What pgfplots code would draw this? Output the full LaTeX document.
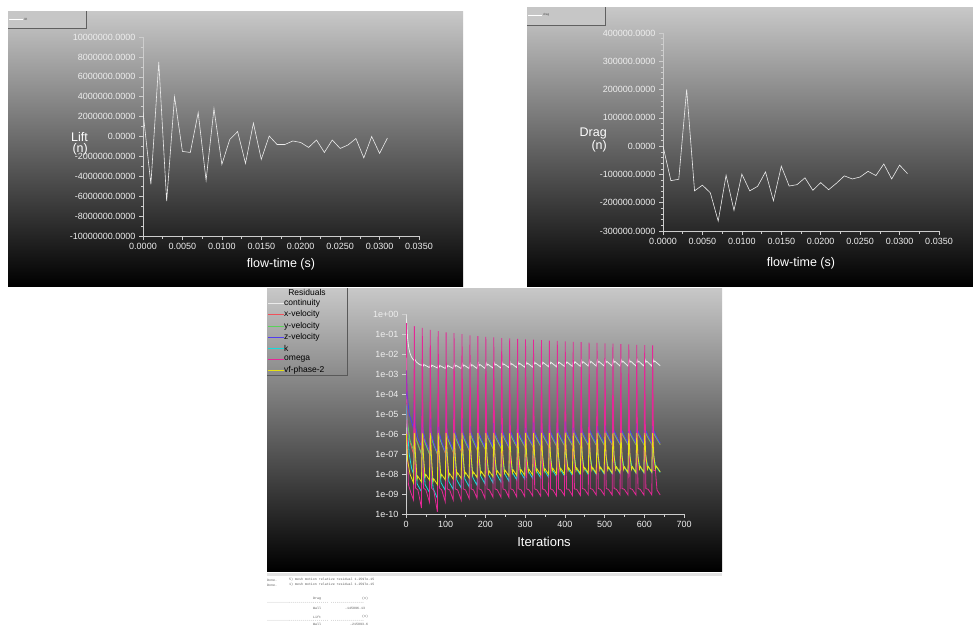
\documentclass[border=0pt]{standalone}
\usepackage{fontspec}
\setmainfont{Liberation Sans}
\newfontfamily\monof{Liberation Mono}
\usepackage{pgfplots}
\pgfplotsset{compat=1.18}
\definecolor{bgtop}{RGB}{200,200,200}
\definecolor{legbg}{RGB}{198,198,198}
\definecolor{axg}{RGB}{205,205,205}
\definecolor{lbl}{RGB}{238,238,238}
\definecolor{cred}{RGB}{240,80,90}
\definecolor{cgreen}{RGB}{90,210,90}
\definecolor{cblue}{RGB}{80,60,240}
\definecolor{ccyan}{RGB}{20,220,220}
\definecolor{cmag}{RGB}{228,40,150}
\definecolor{cyel}{RGB}{230,225,20}
\definecolor{cwhite}{RGB}{235,235,235}
\pgfplotsset{fl/.style={scale only axis, axis x line*=bottom, axis y line*=left,
  axis line style={axg,line width=0.6pt}, tick style={axg,line width=0.5pt},
  tick align=outside, major tick length=4pt, minor tick length=2.5pt,
  ticklabel style={font=\fontsize{9}{10}\selectfont, text=lbl},
  scaled ticks=false}}
\begin{document}
\begin{tikzpicture}
\path[use as bounding box] (0,0) rectangle (973pt,-625pt);
\fill[white] (0,0) rectangle (973pt,-625pt);
% panels
\shade[top color=bgtop, bottom color=black] (8pt,-11pt) rectangle (463pt,-286pt);
\shade[top color=bgtop, bottom color=black] (527pt,-7pt) rectangle (973pt,-286pt);
\shade[top color=bgtop, bottom color=black] (267pt,-288pt) rectangle (722pt,-571pt);
% legends of lift / drag
\fill[legbg] (8pt,-11pt) rectangle (86pt,-28pt);
\draw[gray!75!black,line width=0.7pt] (86pt,-11pt) -- (86pt,-28pt) -- (8pt,-28pt);
\draw[white,line width=0.5pt] (9pt,-19pt) -- (23pt,-19pt);
\node[anchor=west,inner sep=0,font=\fontsize{3}{3}\selectfont,text=gray!60!black] at (24pt,-19pt) {lift};
\fill[legbg] (527pt,-7pt) rectangle (605pt,-25pt);
\draw[gray!75!black,line width=0.7pt] (605pt,-7pt) -- (605pt,-25pt) -- (527pt,-25pt);
\draw[white,line width=0.5pt] (528pt,-15pt) -- (542pt,-15pt);
\node[anchor=west,inner sep=0,font=\fontsize{3}{3}\selectfont,text=gray!60!black] at (543pt,-15pt) {drag};
% Lift axis
\begin{axis}[fl, at={(143pt,-236pt)}, anchor=south west, width=276pt, height=199pt,
  xmin=0, xmax=0.035, ymin=-10000000, ymax=10000000,
  xtick={0,0.005,0.01,0.015,0.02,0.025,0.03,0.035},
  xticklabels={0.0000,0.0050,0.0100,0.0150,0.0200,0.0250,0.0300,0.0350},
  ytick={-10000000,-8000000,-6000000,-4000000,-2000000,0,2000000,4000000,6000000,8000000,10000000},
  yticklabels={-10000000.0000,-8000000.0000,-6000000.0000,-4000000.0000,-2000000.0000,0.0000,2000000.0000,4000000.0000,6000000.0000,8000000.0000,10000000.0000},
  minor x tick num=1, minor y tick num=1]
\addplot[cwhite, line width=0.6pt] coordinates {(0,2500000)(0.001,-4800000)(0.002,7500000)(0.003,-6500000)(0.004,4000000)(0.005,-1500000)(0.006,-1600000)(0.007,2400000)(0.008,-4400000)(0.009,2800000)(0.010,-2800000)(0.011,-300000)(0.012,500000)(0.013,-2700000)(0.014,1350000)(0.015,-2300000)(0.016,50000)(0.017,-800000)(0.018,-800000)(0.019,-450000)(0.020,-600000)(0.021,-1100000)(0.022,-350000)(0.023,-1600000)(0.024,-350000)(0.025,-1200000)(0.026,-850000)(0.027,-200000)(0.028,-2150000)(0.029,0)(0.030,-1700000)(0.031,-150000)};
\end{axis}
% Drag axis
\begin{axis}[fl, at={(663pt,-231pt)}, anchor=south west, width=276pt, height=198pt,
  xmin=0, xmax=0.035, ymin=-300000, ymax=400000,
  xtick={0,0.005,0.01,0.015,0.02,0.025,0.03,0.035},
  xticklabels={0.0000,0.0050,0.0100,0.0150,0.0200,0.0250,0.0300,0.0350},
  ytick={-300000,-200000,-100000,0,100000,200000,300000,400000},
  yticklabels={-300000.0000,-200000.0000,-100000.0000,0.0000,100000.0000,200000.0000,300000.0000,400000.0000},
  minor x tick num=1, minor y tick num=4]
\addplot[cwhite, line width=0.6pt] coordinates {(0,0)(0.001,-122000)(0.002,-117000)(0.003,201000)(0.004,-158000)(0.005,-138000)(0.006,-165000)(0.007,-265000)(0.008,-103000)(0.009,-227000)(0.010,-99000)(0.011,-158000)(0.012,-142000)(0.013,-91000)(0.014,-193000)(0.015,-71000)(0.016,-141000)(0.017,-136000)(0.018,-112000)(0.019,-156000)(0.020,-129000)(0.021,-154000)(0.022,-131000)(0.023,-105000)(0.024,-116000)(0.025,-109000)(0.026,-89000)(0.027,-104000)(0.028,-63000)(0.029,-116000)(0.030,-67000)(0.031,-97000)};
\end{axis}
% Residual axis
\begin{axis}[fl, at={(406pt,-514pt)}, anchor=south west, width=278pt, height=200pt,
  xmin=0, xmax=700, ymode=log, ymin=1e-10, ymax=1,
  xtick={0,100,200,300,400,500,600,700}, xticklabels={0,100,200,300,400,500,600,700},
  ytick={1e-10,1e-9,1e-8,1e-7,1e-6,1e-5,1e-4,1e-3,1e-2,1e-1,1},
  yticklabels={1e-10,1e-09,1e-08,1e-07,1e-06,1e-05,1e-04,1e-03,1e-02,1e-01,1e+00},
  minor x tick num=1, yminorticks=false,
  every axis plot/.append style={line width=0.8pt}]
% continuity
\addplot[cwhite] coordinates {(0,1)(2,0.3)(4,0.06)(7,0.02)(10,1.1e-2)(14,7e-3)(19,5e-3)(22,5.5e-3)(26,4e-3)(32,3.2e-3)(39,2.7e-3)
(42,3.4e-3)(44,2.6e-3)(46,2.9e-3)(59,2.1e-3)
(62,3.2e-3)(64,2.4e-3)(66,2.7e-3)(79,2e-3)
(82,3.1e-3)(84,2.3e-3)(86,2.6e-3)(99,1.9e-3)
(102,3.1e-3)(104,2.3e-3)(106,2.6e-3)(119,1.9e-3)
(122,3.2e-3)(124,2.4e-3)(126,2.7e-3)(139,1.9e-3)
(142,3.3e-3)(144,2.5e-3)(146,2.8e-3)(159,1.9e-3)
(162,3.4e-3)(164,2.55e-3)(166,2.9e-3)(179,1.9e-3)
(182,3.5e-3)(184,2.6e-3)(186,3e-3)(199,1.9e-3)
(202,3.6e-3)(204,2.7e-3)(206,3.1e-3)(219,2e-3)
(222,3.7e-3)(224,2.8e-3)(226,3.1e-3)(239,2e-3)
(242,3.8e-3)(244,2.85e-3)(246,3.2e-3)(259,2.1e-3)
(262,3.9e-3)(264,2.9e-3)(266,3.3e-3)(279,2.1e-3)
(282,4e-3)(284,3e-3)(286,3.4e-3)(299,2.2e-3)
(302,4.1e-3)(304,3.1e-3)(306,3.5e-3)(319,2.2e-3)
(322,4.2e-3)(324,3.2e-3)(326,3.6e-3)(339,2.3e-3)
(342,4.3e-3)(344,3.2e-3)(346,3.7e-3)(359,2.3e-3)
(362,4.4e-3)(364,3.3e-3)(366,3.7e-3)(379,2.3e-3)
(382,4.5e-3)(384,3.4e-3)(386,3.8e-3)(399,2.4e-3)
(402,4.6e-3)(404,3.5e-3)(406,3.9e-3)(419,2.4e-3)
(422,4.7e-3)(424,3.5e-3)(426,4e-3)(439,2.4e-3)
(442,4.8e-3)(444,3.6e-3)(446,4.1e-3)(459,2.5e-3)
(462,4.9e-3)(464,3.7e-3)(466,4.2e-3)(479,2.5e-3)
(482,5e-3)(484,3.8e-3)(486,4.2e-3)(499,2.5e-3)
(502,5e-3)(504,3.8e-3)(506,4.3e-3)(519,2.5e-3)
(522,5.1e-3)(524,3.8e-3)(526,4.3e-3)(539,2.5e-3)
(542,5.1e-3)(544,3.9e-3)(546,4.4e-3)(559,2.5e-3)
(562,5.2e-3)(564,3.9e-3)(566,4.4e-3)(579,2.5e-3)
(582,5.2e-3)(584,3.9e-3)(586,4.4e-3)(599,2.5e-3)
(602,5.2e-3)(604,3.9e-3)(606,4.4e-3)(619,2.5e-3)
(622,5.3e-3)(624,4e-3)(626,4.5e-3)(640,2.6e-3)};
% x-velocity
\addplot[cred] coordinates {(0,1e-4)(3,3e-6)(10,4e-7)(19,1e-7)
(21,4e-6)(24,7e-7)(39,1e-7)(41,3.5e-6)(44,7e-7)(59,1e-7)(61,3e-6)(64,7e-7)(79,1e-7)
(81,3e-6)(84,7e-7)(99,1.1e-7)(101,3e-6)(104,7e-7)(119,1.2e-7)(121,3e-6)(124,7.5e-7)(139,1.4e-7)
(141,3e-6)(144,7.5e-7)(159,1.5e-7)(161,3e-6)(164,8e-7)(179,1.6e-7)(181,3e-6)(184,8e-7)(199,1.8e-7)
(201,3e-6)(204,8e-7)(219,1.9e-7)(221,3e-6)(224,8e-7)(239,2e-7)(241,3e-6)(244,8.5e-7)(259,2.1e-7)
(261,3e-6)(264,8.5e-7)(279,2.2e-7)(281,3e-6)(284,8.5e-7)(299,2.3e-7)(301,3e-6)(304,9e-7)(319,2.4e-7)
(321,2.8e-6)(324,9e-7)(339,2.4e-7)(341,2.8e-6)(344,9e-7)(359,2.5e-7)(361,2.8e-6)(364,9e-7)(379,2.5e-7)
(381,2.8e-6)(384,9.5e-7)(399,2.6e-7)(401,2.7e-6)(404,9.5e-7)(419,2.6e-7)(421,2.7e-6)(424,9.5e-7)(439,2.7e-7)
(441,2.7e-6)(444,1e-6)(459,2.7e-7)(461,2.6e-6)(464,1e-6)(479,2.8e-7)(481,2.6e-6)(484,1e-6)(499,2.8e-7)
(501,2.6e-6)(504,1e-6)(519,2.9e-7)(521,2.5e-6)(524,1e-6)(539,2.9e-7)(541,2.5e-6)(544,1e-6)(559,3e-7)
(561,2.5e-6)(564,1e-6)(579,3e-7)(581,2.5e-6)(584,1e-6)(599,3e-7)(601,2.5e-6)(604,1e-6)(619,3e-7)
(621,2.4e-6)(624,1e-6)(640,3e-7)};
% y-velocity
\addplot[cgreen] coordinates {(0,3e-5)(3,5e-6)(10,5e-7)(19,1.5e-7)
(22,1.3e-6)(26,5e-7)(39,1e-7)(42,1.2e-6)(46,4.5e-7)(59,1e-7)(62,1.2e-6)(66,4.5e-7)(79,1e-7)
(82,1.2e-6)(86,5e-7)(99,1.2e-7)(102,1.2e-6)(106,5e-7)(119,1.3e-7)(122,1.2e-6)(126,5.5e-7)(139,1.5e-7)
(142,1.2e-6)(146,5.5e-7)(159,1.6e-7)(162,1.2e-6)(166,6e-7)(179,1.8e-7)(182,1.2e-6)(186,6e-7)(199,1.9e-7)
(202,1.3e-6)(206,6.5e-7)(219,2e-7)(222,1.3e-6)(226,6.5e-7)(239,2.1e-7)(242,1.3e-6)(246,7e-7)(259,2.2e-7)
(262,1.3e-6)(266,7e-7)(279,2.3e-7)(282,1.3e-6)(286,7e-7)(299,2.4e-7)(302,1.4e-6)(306,7.5e-7)(319,2.5e-7)
(322,1.4e-6)(326,7.5e-7)(339,2.5e-7)(342,1.4e-6)(346,7.5e-7)(359,2.6e-7)(362,1.4e-6)(366,8e-7)(379,2.6e-7)
(382,1.5e-6)(386,8e-7)(399,2.7e-7)(402,1.5e-6)(406,8e-7)(419,2.7e-7)(422,1.5e-6)(426,8e-7)(439,2.8e-7)
(442,1.5e-6)(446,8.5e-7)(459,2.8e-7)(462,1.6e-6)(466,8.5e-7)(479,2.9e-7)(482,1.6e-6)(486,8.5e-7)(499,2.9e-7)
(502,1.6e-6)(506,9e-7)(519,3e-7)(522,1.6e-6)(526,9e-7)(539,3e-7)(542,1.7e-6)(546,9e-7)(559,3e-7)
(562,1.7e-6)(566,9e-7)(579,3e-7)(582,1.7e-6)(586,9e-7)(599,3e-7)(602,1.7e-6)(606,9e-7)(619,3e-7)
(622,1.7e-6)(626,9e-7)(640,3e-7)};
% z-velocity
\addplot[cblue] coordinates {(0,2e-5)(1,1.5e-3)(3,1e-4)(8,1e-5)(19,2e-6)
(21,1e-4)(23,3e-6)(30,6e-7)(39,2.5e-7)
(41,4e-5)(43,1.5e-6)(50,4e-7)(59,1.5e-7)
(61,2.5e-5)(63,1.3e-6)(70,3.5e-7)(79,1.2e-7)
(81,1.8e-5)(83,1.3e-6)(90,4e-7)(99,1.3e-7)
(101,1.5e-5)(103,1.3e-6)(110,4.5e-7)(119,1.5e-7)
(121,1.3e-5)(123,1.3e-6)(130,5e-7)(139,1.7e-7)
(141,1.2e-5)(143,1.3e-6)(150,5e-7)(159,1.9e-7)
(161,1.1e-5)(163,1.3e-6)(170,5.5e-7)(179,2e-7)
(181,1e-5)(183,1.3e-6)(190,5.5e-7)(199,2.2e-7)
(201,1e-5)(203,1.3e-6)(210,6e-7)(219,2.4e-7)
(221,9e-6)(223,1.3e-6)(230,6e-7)(239,2.5e-7)
(241,9e-6)(243,1.4e-6)(250,6e-7)(259,2.6e-7)
(261,8.5e-6)(263,1.4e-6)(270,6.5e-7)(279,2.7e-7)
(281,8e-6)(283,1.4e-6)(290,6.5e-7)(299,2.8e-7)
(301,7.5e-6)(303,1.4e-6)(310,6.5e-7)(319,2.9e-7)
(321,7e-6)(323,1.4e-6)(330,7e-7)(339,3e-7)
(341,7e-6)(343,1.4e-6)(350,7e-7)(359,3e-7)
(361,6.5e-6)(363,1.4e-6)(370,7e-7)(379,3.1e-7)
(381,6.5e-6)(383,1.5e-6)(390,7e-7)(399,3.2e-7)
(401,6e-6)(403,1.5e-6)(410,7.5e-7)(419,3.3e-7)
(421,6e-6)(423,1.5e-6)(430,7.5e-7)(439,3.3e-7)
(441,5.5e-6)(443,1.5e-6)(450,7.5e-7)(459,3.4e-7)
(461,5.5e-6)(463,1.5e-6)(470,7.5e-7)(479,3.4e-7)
(481,5e-6)(483,1.5e-6)(490,8e-7)(499,3.5e-7)
(501,5e-6)(503,1.5e-6)(510,8e-7)(519,3.5e-7)
(521,4.5e-6)(523,1.6e-6)(530,8e-7)(539,3.5e-7)
(541,4.5e-6)(543,1.6e-6)(550,8e-7)(559,3.5e-7)
(561,4.2e-6)(563,1.6e-6)(570,8e-7)(579,3.6e-7)
(581,4e-6)(583,1.6e-6)(590,8e-7)(599,3.6e-7)
(601,4e-6)(603,1.6e-6)(610,8e-7)(619,3.6e-7)
(621,3.8e-6)(623,1.6e-6)(630,8e-7)(640,3.5e-7)};
% k
\addplot[ccyan] coordinates {(0,3e-5)(3,3e-6)(8,1e-7)(14,2e-8)(19,1e-8)
(21,6e-7)(23,1e-7)(28,3.2e-9)(39,1.3e-9)
(41,6e-7)(43,1e-7)(48,3e-9)(59,1.2e-9)
(61,6e-7)(63,1e-7)(68,2e-9)(79,6e-10)
(81,6e-7)(83,1e-7)(88,3.8e-9)(99,1.5e-9)
(101,6e-7)(103,1e-7)(108,4.2e-9)(119,1.7e-9)
(121,6e-7)(123,1e-7)(128,5e-9)(139,2e-9)
(141,6e-7)(143,1e-7)(148,5.8e-9)(159,2.3e-9)
(161,6e-7)(163,1e-7)(168,6.8e-9)(179,2.7e-9)
(181,6e-7)(183,1e-7)(188,8e-9)(199,3.2e-9)
(201,6e-7)(203,1e-7)(208,9e-9)(219,3.6e-9)
(221,6e-7)(223,1e-7)(228,1e-8)(239,4e-9)
(241,6e-7)(243,1e-7)(248,1.1e-8)(259,4.4e-9)
(261,6e-7)(263,1e-7)(268,1.2e-8)(279,5e-9)
(281,6e-7)(283,1e-7)(288,1.3e-8)(299,5.5e-9)
(301,6e-7)(303,1e-7)(308,1.4e-8)(319,6e-9)
(321,6e-7)(323,1e-7)(328,1.5e-8)(339,6.5e-9)
(341,6e-7)(343,1e-7)(348,1.6e-8)(359,7e-9)
(361,6e-7)(363,1e-7)(368,1.7e-8)(379,7.5e-9)
(381,6e-7)(383,1e-7)(388,1.8e-8)(399,8e-9)
(401,6e-7)(403,1e-7)(408,1.9e-8)(419,8.5e-9)
(421,6e-7)(423,1e-7)(428,2e-8)(439,9e-9)
(441,6e-7)(443,1e-7)(448,2.1e-8)(459,9.3e-9)
(461,6e-7)(463,1e-7)(468,2.2e-8)(479,9.6e-9)
(481,6e-7)(483,1e-7)(488,2.3e-8)(499,1e-8)
(501,6e-7)(503,1e-7)(508,2.4e-8)(519,1.03e-8)
(521,6e-7)(523,1e-7)(528,2.5e-8)(539,1.06e-8)
(541,6e-7)(543,1e-7)(548,2.5e-8)(559,1.1e-8)
(561,6e-7)(563,1e-7)(568,2.6e-8)(579,1.1e-8)
(581,6e-7)(583,1e-7)(588,2.6e-8)(599,1.13e-8)
(601,6e-7)(603,1e-7)(608,2.7e-8)(619,1.15e-8)
(621,6e-7)(623,1e-7)(628,2.7e-8)(640,1.2e-8)};
% omega
\addplot[cmag] coordinates {(1,0.35)(3,1e-6)(6,3e-9)(12,1.2e-9)(19,5e-10)
(21,0.25)(24,2e-9)(30,1.6e-9)(39,2e-10)
(41,0.2)(44,2e-9)(50,1.6e-9)(59,4e-10)
(61,0.16)(64,2e-9)(70,1.5e-9)(79,1.3e-10)
(81,0.14)(84,2e-9)(90,1.6e-9)(99,4e-10)
(101,0.12)(104,1.8e-9)(110,1.6e-9)(119,5e-10)
(121,0.11)(124,1.8e-9)(130,1.6e-9)(139,5e-10)
(141,0.1)(144,1.8e-9)(150,1.6e-9)(159,6e-10)
(161,0.085)(164,1.8e-9)(170,1.6e-9)(179,6e-10)
(181,0.078)(184,1.8e-9)(190,1.6e-9)(199,6e-10)
(201,0.072)(204,1.8e-9)(210,1.6e-9)(219,7e-10)
(221,0.068)(224,1.8e-9)(230,1.6e-9)(239,7e-10)
(241,0.063)(244,1.8e-9)(250,1.6e-9)(259,7e-10)
(261,0.06)(264,1.8e-9)(270,1.6e-9)(279,7e-10)
(281,0.057)(284,1.8e-9)(290,1.6e-9)(299,7.5e-10)
(301,0.054)(304,1.8e-9)(310,1.6e-9)(319,8e-10)
(321,0.052)(324,1.8e-9)(330,1.6e-9)(339,8e-10)
(341,0.05)(344,1.8e-9)(350,1.6e-9)(359,8e-10)
(361,0.047)(364,1.8e-9)(370,1.6e-9)(379,8e-10)
(381,0.045)(384,1.8e-9)(390,1.6e-9)(399,8.5e-10)
(401,0.043)(404,1.8e-9)(410,1.7e-9)(419,8.5e-10)
(421,0.041)(424,1.8e-9)(430,1.7e-9)(439,8.5e-10)
(441,0.039)(444,1.9e-9)(450,1.7e-9)(459,9e-10)
(461,0.037)(464,1.9e-9)(470,1.7e-9)(479,9e-10)
(481,0.036)(484,1.9e-9)(490,1.7e-9)(499,9e-10)
(501,0.034)(504,1.9e-9)(510,1.7e-9)(519,9e-10)
(521,0.033)(524,1.9e-9)(530,1.7e-9)(539,9e-10)
(541,0.031)(544,1.9e-9)(550,1.7e-9)(559,9e-10)
(561,0.03)(564,1.9e-9)(570,1.7e-9)(579,9e-10)
(581,0.029)(584,1.9e-9)(590,1.7e-9)(599,9e-10)
(601,0.028)(604,1.9e-9)(610,1.7e-9)(619,9e-10)
(621,0.027)(624,1.5e-8)(628,1.5e-8)(632,1.6e-9)(640,9e-10)};
% vf-phase-2
\addplot[cyel] coordinates {(0,5e-7)(1,1e-6)(4,5e-8)(10,1e-8)(19,3.5e-9)
(21,1.1e-6)(24,8e-8)(28,5.6e-9)(30,7.6e-9)(39,4e-9)
(41,1.1e-6)(44,8e-8)(48,7e-9)(50,9.5e-9)(59,5e-9)
(61,1.1e-6)(64,8e-8)(68,4.2e-9)(70,5.7e-9)(79,3e-9)
(81,1.1e-6)(84,8e-8)(88,7e-9)(90,9.5e-9)(99,5e-9)
(101,1.1e-6)(104,8e-8)(108,7.7e-9)(110,1.05e-8)(119,5.5e-9)
(121,1.1e-6)(124,8e-8)(128,8.4e-9)(130,1.14e-8)(139,6e-9)
(141,1.1e-6)(144,8e-8)(148,8.8e-9)(150,1.2e-8)(159,6.3e-9)
(161,1.1e-6)(164,8e-8)(168,9.2e-9)(170,1.25e-8)(179,6.6e-9)
(181,1.1e-6)(184,8e-8)(188,9.8e-9)(190,1.33e-8)(199,7e-9)
(201,1.1e-6)(204,8e-8)(208,1.02e-8)(210,1.39e-8)(219,7.3e-9)
(221,1.1e-6)(224,8e-8)(228,1.06e-8)(230,1.44e-8)(239,7.6e-9)
(241,1.1e-6)(244,8e-8)(248,1.12e-8)(250,1.52e-8)(259,8e-9)
(261,1.1e-6)(264,8e-8)(268,1.16e-8)(270,1.58e-8)(279,8.3e-9)
(281,1.1e-6)(284,8e-8)(288,1.2e-8)(290,1.63e-8)(299,8.6e-9)
(301,1.1e-6)(304,8e-8)(308,1.26e-8)(310,1.71e-8)(319,9e-9)
(321,1.1e-6)(324,8e-8)(328,1.3e-8)(330,1.77e-8)(339,9.3e-9)
(341,1.1e-6)(344,8e-8)(348,1.34e-8)(350,1.82e-8)(359,9.6e-9)
(361,1.1e-6)(364,8e-8)(368,1.4e-8)(370,1.9e-8)(379,1e-8)
(381,1.1e-6)(384,8e-8)(388,1.4e-8)(390,1.9e-8)(399,1e-8)
(401,1.1e-6)(404,8e-8)(408,1.47e-8)(410,2e-8)(419,1.05e-8)
(421,1.1e-6)(424,8e-8)(428,1.47e-8)(430,2e-8)(439,1.05e-8)
(441,1.1e-6)(444,8e-8)(448,1.54e-8)(450,2.1e-8)(459,1.1e-8)
(461,1.1e-6)(464,8e-8)(468,1.54e-8)(470,2.1e-8)(479,1.1e-8)
(481,1.1e-6)(484,8e-8)(488,1.6e-8)(490,2.2e-8)(499,1.15e-8)
(501,1.1e-6)(504,8e-8)(508,1.6e-8)(510,2.2e-8)(519,1.15e-8)
(521,1.1e-6)(524,8e-8)(528,1.68e-8)(530,2.3e-8)(539,1.2e-8)
(541,1.1e-6)(544,8e-8)(548,1.68e-8)(550,2.3e-8)(559,1.2e-8)
(561,1.1e-6)(564,8e-8)(568,1.68e-8)(570,2.3e-8)(579,1.2e-8)
(581,1.1e-6)(584,8e-8)(588,1.75e-8)(590,2.4e-8)(599,1.25e-8)
(601,1.1e-6)(604,8e-8)(608,1.75e-8)(610,2.4e-8)(619,1.25e-8)
(621,1.1e-6)(624,8e-8)(628,1.82e-8)(630,2.5e-8)(640,1.3e-8)};
\end{axis}
% axis labels
\node[anchor=east,inner sep=0,text=white,font=\fontsize{12.5}{12}\selectfont] at (88pt,-137pt) {Lift};
\node[anchor=east,inner sep=0,text=white,font=\fontsize{12.5}{12}\selectfont] at (88pt,-149pt) {(n)};
\node[inner sep=0,text=white,font=\fontsize{12.5}{12}\selectfont] at (281pt,-264pt) {flow-time (s)};
\node[anchor=east,inner sep=0,text=white,font=\fontsize{12.5}{12}\selectfont] at (607pt,-133pt) {Drag};
\node[anchor=east,inner sep=0,text=white,font=\fontsize{12.5}{12}\selectfont] at (607pt,-146pt) {(n)};
\node[inner sep=0,text=white,font=\fontsize{12.5}{12}\selectfont] at (801pt,-263pt) {flow-time (s)};
\node[inner sep=0,text=white,font=\fontsize{13}{13}\selectfont] at (544pt,-542pt) {Iterations};
% residual legend
\draw[gray!70!black,line width=0.7pt] (347pt,-288pt) -- (347pt,-375pt) -- (267pt,-375pt);
\node[inner sep=0,font=\fontsize{8.5}{9}\selectfont] at (307pt,-292pt) {Residuals};
\foreach \yy/\cc/\tt in {303/cwhite/continuity,314/cred/x-velocity,326/cgreen/y-velocity,337/cblue/z-velocity,348/ccyan/k,359/cmag/omega,370/cyel/vf-phase-2}{
  \draw[\cc,line width=0.6pt] (268pt,-\yy pt) -- (284pt,-\yy pt);
  \node[anchor=west,inner sep=0,font=\fontsize{8.5}{9}\selectfont] at (284pt,-\yy pt) {\tt};
}
% console text
\fill[gray!22] (267pt,-573pt) rectangle (722pt,-575.5pt);
\begin{scope}[every node/.style={anchor=west,inner sep=0,font=\monof\fontsize{3.3}{4}\selectfont,text=gray!70!black}]
\node at (267pt,-580pt) {Done.};
\node at (289pt,-580pt) {5) mesh motion relative residual 1.2597e-15};
\node at (267pt,-585pt) {Done.};
\node at (289pt,-585pt) {1) mesh motion relative residual 1.2597e-15};
\node at (313pt,-599pt) {Drag};
\node at (362pt,-599pt) {(n)};
\node at (267pt,-603pt) {------------------------------- -----------------};
\node at (313pt,-608pt) {Wall};
\node at (345pt,-608pt) {-145896.13};
\node at (313pt,-617pt) {Lift};
\node at (362pt,-617pt) {(n)};
\node at (267pt,-621pt) {------------------------------- -----------------};
\node at (313pt,-624.5pt) {Wall};
\node at (350pt,-624.5pt) {-215893.6};
\end{scope}
\end{tikzpicture}
\end{document}
